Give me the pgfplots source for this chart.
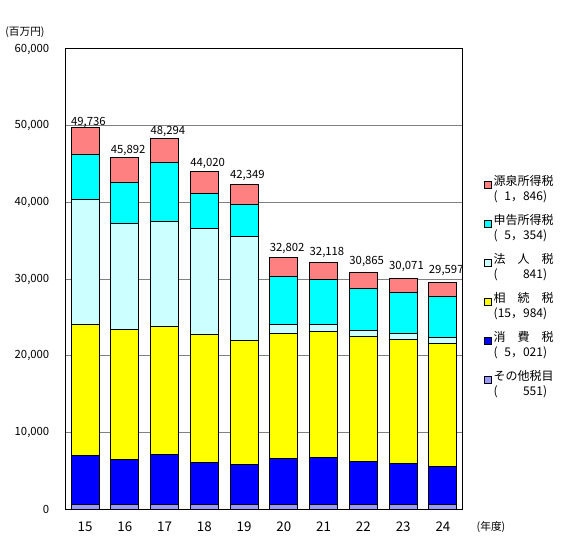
\documentclass[border=0pt]{standalone}
\usepackage{pgfplots}
\pgfplotsset{compat=1.18}
\usepackage{fontspec}
\setmainfont{Noto Sans CJK JP}
\definecolor{cWH}{RGB}{255,128,128}
\definecolor{cSelf}{RGB}{0,255,255}
\definecolor{cCorp}{RGB}{204,255,255}
\definecolor{cInh}{RGB}{255,255,0}
\definecolor{cCons}{RGB}{0,0,255}
\definecolor{cOther}{RGB}{153,153,255}
\newcommand{\legtwo}[2]{\begin{tabular}[t]{@{}l@{}}#1\\#2\end{tabular}}
\begin{document}
\begin{tikzpicture}
\useasboundingbox (-49.5pt,-24.75pt) rectangle (385.5pt,381.75pt);
\begin{axis}[
  at={(0,0)}, anchor=south west,
  scale only axis, width=297pt, height=345pt,
  ybar stacked, bar width=21pt,
  xmin=-0.48, xmax=9.48, ymin=0, ymax=60000,
  xtick={0,...,9}, xticklabels={15,16,17,18,19,20,21,22,23,24},
  ytick={0,10000,...,60000},
  scaled y ticks=false,
  /pgf/number format/.cd, 1000 sep={,}, assume math mode=true, /pgfplots/.cd,
  ymajorgrids, grid style={gray, line width=0.75pt},
  major tick length=0pt,
  axis line style={black, line width=0.75pt},
  yticklabel style={font=\fontsize{8.5}{9}\selectfont, xshift=-9pt},
  xticklabel style={font=\fontsize{10}{12}\selectfont, yshift=-6pt},
  every axis plot/.append style={draw=black, line width=0.75pt},
  legend image code/.code={\draw[#1,draw=black,line width=0.5pt] (0pt,0.8pt) rectangle (5.25pt,6pt);},
  reverse legend,
  legend cell align=left,
  legend style={at={(1.055,0.728)}, anchor=north west, draw=none, fill=none,
    inner sep=0pt, row sep=6.25pt, column sep=0pt,
    font=\fontsize{9}{11.25}\selectfont,
    nodes={inner xsep=1.5pt, inner ysep=0pt, text height=8pt, text depth=15pt}},
]
\addplot[fill=cOther] coordinates {(0,600) (1,600) (2,620) (3,550) (4,550) (5,550) (6,550) (7,550) (8,550) (9,551)};
\addlegendentry{\legtwo{その他税目}{(\hphantom{15，}551)}}
\addplot[fill=cCons] coordinates {(0,6400) (1,5878) (2,6467) (3,5537) (4,5276) (5,6100) (6,6230) (7,5710) (8,5360) (9,5021)};
\addlegendentry{\legtwo{消\hphantom{一}費\hphantom{一}税}{(\hphantom{1}5，021)}}
\addplot[fill=cInh] coordinates {(0,17090) (1,16912) (2,16653) (3,16613) (4,16214) (5,16260) (6,16390) (7,16260) (8,16220) (9,15984)};
\addlegendentry{\legtwo{相\hphantom{一}続\hphantom{一}税}{(15，984)}}
\addplot[fill=cCorp] coordinates {(0,16255) (1,13870) (2,13825) (3,13910) (4,13440) (5,1130) (6,960) (7,780) (8,700) (9,841)};
\addlegendentry{\legtwo{法\hphantom{一}人\hphantom{一}税}{(\hphantom{15，}841)}}
\addplot[fill=cSelf] coordinates {(0,5830) (1,5390) (2,7695) (3,4520) (4,4260) (5,6260) (6,5740) (7,5440) (8,5430) (9,5354)};
\addlegendentry{\legtwo{申告所得税}{(\hphantom{1}5，354)}}
\addplot[fill=cWH, nodes near coords, point meta=explicit,
  every node near coord/.append style={font=\fontsize{8.5}{10}\selectfont, anchor=south, yshift=6.5pt, text=black, xshift=2.5pt}]
  coordinates {(0,3561) [49736] (1,3242) [45892] (2,3034) [48294] (3,2890) [44020] (4,2609) [42349] (5,2502) [32802] (6,2248) [32118] (7,2125) [30865] (8,1811) [30071] (9,1846) [29597]};
\addlegendentry{\legtwo{源泉所得税}{(\hphantom{1}1，846)}}
\end{axis}
\node[font=\fontsize{8}{9}\selectfont] at (318.75pt,-13.5pt) {(年度)};
\node[font=\fontsize{8}{9}\selectfont] at (-30.75pt,357.75pt) {(百万円)};
\end{tikzpicture}
\end{document}
